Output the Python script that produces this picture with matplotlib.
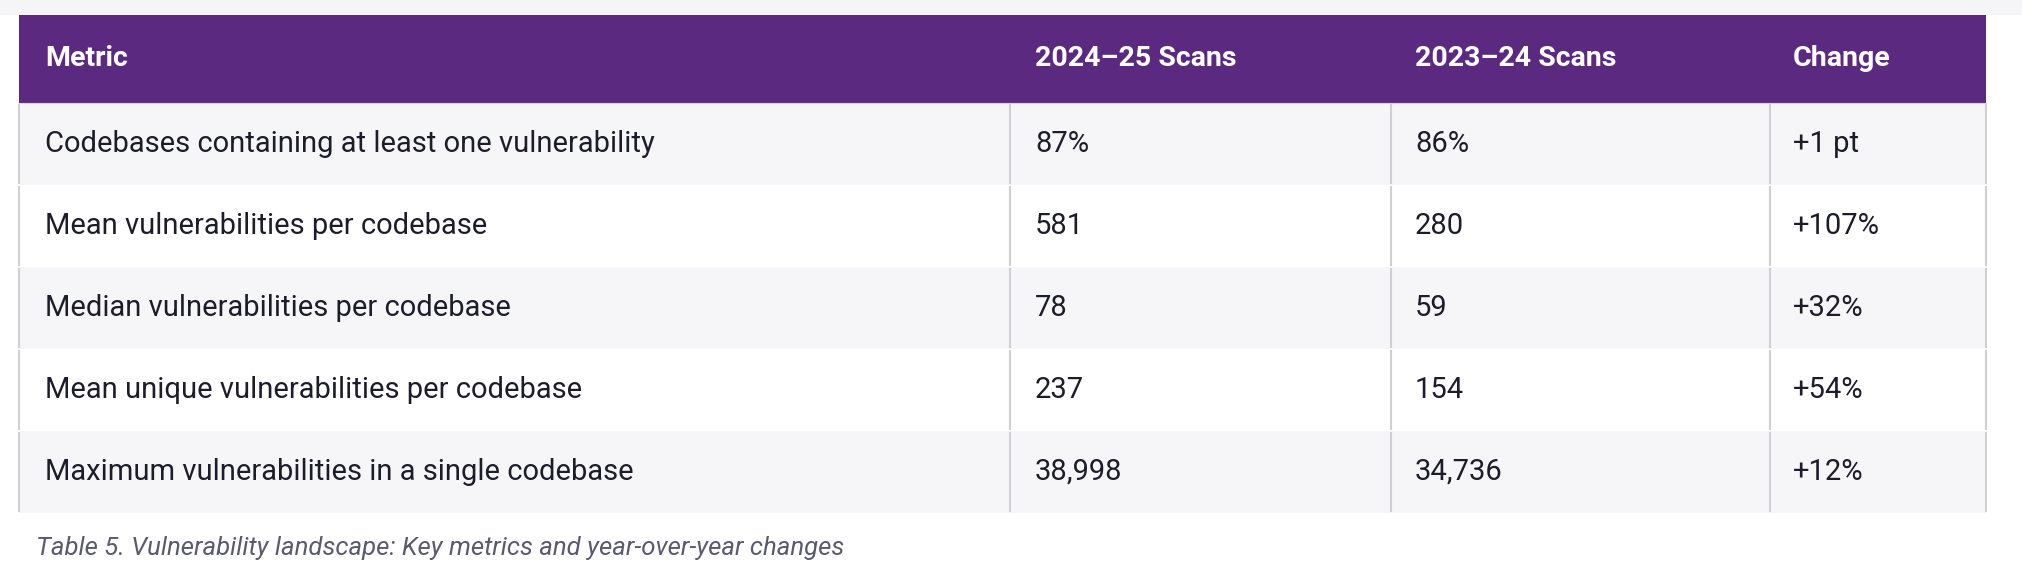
import matplotlib
matplotlib.use("Agg")
import matplotlib.pyplot as plt
from matplotlib.patches import Rectangle

columns = ["Metric", "2024\u201325 Scans", "2023\u201324 Scans", "Change"]
metrics = ["Codebases containing at least one vulnerability",
           "Mean vulnerabilities per codebase",
           "Median vulnerabilities per codebase",
           "Mean unique vulnerabilities per codebase",
           "Maximum vulnerabilities in a single codebase"]
scans_2024_25 = ["87%", "581", "78", "237", "38,998"]
scans_2023_24 = ["86%", "280", "59", "154", "34,736"]
change = ["+1 pt", "+107%", "+32%", "+54%", "+12%"]
caption = "Table 5. Vulnerability landscape: Key metrics and year-over-year changes"

W, H = 2022, 574
fig = plt.figure(figsize=(W/100, H/100), dpi=100)
ax = fig.add_axes([0, 0, 1, 1])
ax.set_xlim(0, W); ax.set_ylim(H, 0); ax.axis("off")
plt.rcParams['font.family'] = ['Roboto', 'DejaVu Sans']

left, right = 19, 1986
colx = [19, 1010, 1391, 1770, 1986]
textx = [45, 1035, 1415, 1793]
head_top, head_bot = 15, 103
rowh = 82
txtc = "#1c1c2b"

ax.add_patch(Rectangle((0, 0), W, head_top, color="#f5f5f7", lw=0))
ax.add_patch(Rectangle((left, head_top), right-left, head_bot-head_top, color="#5b2a80", lw=0))
for j, c in enumerate(columns):
    ax.text(textx[j], (head_top+head_bot)/2, c, color="white", fontsize=20.5,
            fontweight="bold", va="center", ha="left")

rows = list(zip(metrics, scans_2024_25, scans_2023_24, change))
for i, r in enumerate(rows):
    y0 = head_bot + i*rowh
    ax.add_patch(Rectangle((left, y0), right-left, rowh,
                           color="#f6f6f8" if i % 2 == 0 else "white", lw=0))
    for x in colx:
        ax.plot([x, x], [y0+2, y0+rowh-2], color="#cfcfd4", lw=1.5)
    for j, v in enumerate(r):
        ax.text(textx[j], y0+rowh/2, v, color=txtc, fontsize=21, va="center", ha="left")
    if i == 0:
        ax.plot([left, right], [y0, y0], color="#d6d6da", lw=0.8)

ax.text(36, 548, caption, color="#5a5a6e", fontsize=18.5, style="italic", va="center", ha="left")
fig.savefig("out.png", dpi=100, facecolor="white")
